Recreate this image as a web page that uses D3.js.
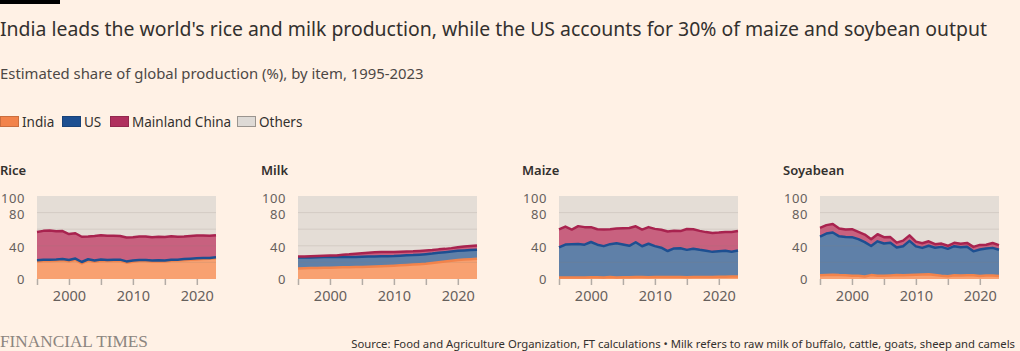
<!DOCTYPE html>
<html>
<head>
<meta charset="utf-8">
<script src="https://cdn.jsdelivr.net/npm/d3@7"></script>
<style>
  body { margin: 0; background: #fff1e5; }
  svg { display: block; font-family: "Noto Sans", sans-serif; }
</style>
</head>
<body>
<div id="chart"></div>
<script>
// ---- data (share of global production, %) ----
const years = d3.range(1995, 2024);

const items = ["Rice", "Milk", "Maize", "Soyabean"];
const seriesNames = ["India", "US", "Mainland China", "Others"];

const riceIndia = [21.0,21.8,21.8,22.0,22.5,21.3,23.0,18.9,22.3,20.7,22.0,21.6,21.8,21.8,19.7,20.7,21.7,21.7,21.2,21.1,21.1,21.9,22.2,22.7,23.3,23.6,24.1,24.4,25.0];
const riceUS    = [1.5,1.5,1.5,1.5,1.6,1.5,1.6,1.6,1.5,1.7,1.6,1.4,1.4,1.5,1.5,1.6,1.2,1.2,1.2,1.4,1.2,1.4,1.1,1.3,1.1,1.3,1.1,1.0,1.1];
const riceChina = [34.2,34.7,35.0,34.0,33.6,31.3,30.5,30.4,27.4,29.4,29.1,29.0,28.8,28.6,28.9,28.1,28.2,28.3,27.9,28.4,28.3,28.1,27.7,27.3,27.4,27.4,27.1,26.6,26.7];

const milkIndia = [12.8,13.0,13.2,13.4,13.6,13.7,13.9,14.1,14.2,14.4,14.6,14.9,15.2,15.5,15.8,16.1,16.5,16.9,17.4,17.9,18.5,19.3,20.2,21.1,22.0,22.8,23.4,23.9,24.5];
const milkUS    = [13.0,12.9,12.8,12.8,12.9,12.8,12.5,12.6,12.4,12.2,12.2,12.1,12.0,11.9,11.7,11.6,11.6,11.6,11.4,11.4,11.4,11.3,11.3,11.1,11.0,11.1,11.0,10.9,10.8];
const milkChina = [1.3,1.3,1.4,1.5,1.6,1.7,2.0,2.5,3.1,3.8,4.3,4.6,4.9,5.0,4.9,4.8,4.8,4.7,4.5,4.5,4.4,4.2,4.2,4.1,4.2,4.4,4.7,5.0,5.1];

const maizeIndia = [1.8,1.8,1.8,1.8,1.9,2.0,2.1,1.9,2.3,1.9,2.1,2.1,2.4,2.4,2.0,2.5,2.5,2.5,2.3,2.3,2.2,2.3,2.5,2.4,2.4,2.7,2.6,2.9,3.1];
const maizeUS    = [36.2,39.7,40.0,40.3,39.5,42.6,39.2,37.7,39.7,41.2,39.5,37.9,41.9,37.1,40.5,37.1,35.2,31.2,34.5,34.7,32.9,34.2,32.7,31.7,30.3,30.8,31.5,29.9,31.3];
const maizeChina = [21.7,21.6,17.8,21.6,21.1,17.9,18.6,20.0,18.0,17.8,19.5,21.4,19.2,20.0,20.0,20.8,21.7,23.5,21.4,20.7,25.2,23.4,22.8,22.4,22.8,22.4,22.5,23.8,23.3];

const soyIndia = [4.5,4.9,5.2,4.8,4.6,3.8,3.8,3.0,4.7,3.9,3.8,4.3,4.7,4.5,4.9,5.1,5.4,5.6,4.7,3.8,3.2,4.5,4.2,4.4,4.5,3.6,4.1,4.1,3.7];
const soyUS    = [46.6,49.8,50.8,46.6,46.0,46.6,44.2,41.4,35.0,41.5,39.0,39.4,33.3,35.0,41.0,34.2,32.1,34.4,33.0,34.9,33.1,35.0,34.0,34.5,28.8,31.9,32.7,33.4,31.5];
const soyChina = [10.6,10.2,10.2,9.5,9.1,9.6,8.7,9.1,8.1,8.5,7.6,6.8,5.8,6.7,6.7,5.7,5.5,5.4,4.3,4.0,3.7,4.1,4.3,4.6,5.4,5.6,4.4,5.8,5.6];

const panelSeries = {
  Rice: [riceIndia, riceUS, riceChina],
  Milk: [milkIndia, milkUS, milkChina],
  Maize: [maizeIndia, maizeUS, maizeChina],
  Soyabean: [soyIndia, soyUS, soyChina]
};

const yTicks = [0, 40, 80, 100];
const yGrid = [20, 40, 60, 80];
const xLabelTicks = [2000, 2010, 2020];
const xTicks = [1995, 2000, 2005, 2010, 2015, 2020];

// ---- styles ----
const fillColors = { "India": "#f8a171", "US": "#5f80a8", "Mainland China": "#c8617f", "Others": "#e4ddd6" };
const lineColors = { "India": "#f2834b", "US": "#1d4f91", "Mainland China": "#a8234f" };
const swatchColors = { "India": "#f2834b", "US": "#1d4f91", "Mainland China": "#b0305e", "Others": "#dedad6" };
const textColor = "#33302e";
const axisColor = "#66605c";

const width = 1020, height = 351;

const svg = d3.select("#chart").append("svg")
  .attr("width", width)
  .attr("height", height);

svg.append("rect").attr("width", width).attr("height", height).attr("fill", "#fff1e5");
svg.append("rect").attr("x", 0).attr("y", 0).attr("width", 60).attr("height", 4).attr("fill", "#000");

// fit a text node to a target width by adjusting font size
function fit(sel, target) {
  const w = sel.node().getComputedTextLength();
  const fs = parseFloat(sel.attr("font-size"));
  sel.attr("font-size", fs * target / w);
}

const title = svg.append("text")
  .attr("x", 0).attr("y", 36)
  .attr("font-size", 20)
  .attr("fill", textColor)
  .text("India leads the world's rice and milk production, while the US accounts for 30% of maize and soybean output");
fit(title, 988);

const subtitle = svg.append("text")
  .attr("x", 0).attr("y", 79)
  .attr("font-size", 15)
  .attr("fill", "#4d4845")
  .text("Estimated share of global production (%), by item, 1995-2023");
fit(subtitle, 424);

// legend
const legendX = [0, 62, 110, 237];
const legend = svg.append("g").attr("transform", "translate(0,116)");
seriesNames.forEach((name, i) => {
  const g = legend.append("g").attr("transform", `translate(${legendX[i]},0)`);
  g.append("rect")
    .attr("x", 0.5).attr("y", 0.5).attr("width", 18).attr("height", 10)
    .attr("fill", swatchColors[name])
    .attr("stroke", name === "Others" ? "#9a948f" : d3.color(swatchColors[name]).darker(0.5))
    .attr("stroke-width", 1);
  g.append("text")
    .attr("x", 22).attr("y", 11)
    .attr("font-size", 13.5)
    .attr("fill", textColor)
    .text(name);
});

// panels
const panelX = [0, 261, 522, 783];
const plotLeft = 37, plotW = 179;
const y = d3.scaleLinear().domain([0, 100]).range([279, 196]);

items.forEach((item, p) => {
  const g = svg.append("g").attr("transform", `translate(${panelX[p]},0)`);
  const x = d3.scaleLinear().domain([1995, 2023]).range([plotLeft, plotLeft + plotW]);

  g.append("text")
    .attr("x", 0).attr("y", 175)
    .attr("font-size", 13)
    .attr("font-weight", 600)
    .attr("fill", textColor)
    .text(item);

  const [a, b, c] = panelSeries[item];
  const rows = years.map((yr, i) => ({
    year: yr,
    "India": a[i],
    "US": b[i],
    "Mainland China": c[i],
    "Others": 100 - a[i] - b[i] - c[i]
  }));
  const stacked = d3.stack().keys(seriesNames)(rows);

  const area = d3.area()
    .x(d => x(d.data.year))
    .y0(d => y(d[0]))
    .y1(d => y(d[1]));
  const topLine = d3.line()
    .x(d => x(d.data.year))
    .y(d => y(d[1]));

  g.selectAll(".band")
    .data(stacked)
    .join("path")
    .attr("class", "band")
    .attr("d", area)
    .attr("fill", d => fillColors[d.key]);

  // grid lines
  g.selectAll(".grid")
    .data(yGrid)
    .join("line")
    .attr("class", "grid")
    .attr("x1", plotLeft).attr("x2", plotLeft + plotW)
    .attr("y1", d => y(d)).attr("y2", d => y(d))
    .attr("stroke", "#8a7f76")
    .attr("stroke-opacity", 0.18)
    .attr("stroke-width", 1);

  g.selectAll(".top")
    .data(stacked.filter(s => s.key !== "Others"))
    .join("path")
    .attr("class", "top")
    .attr("d", topLine)
    .attr("fill", "none")
    .attr("stroke", d => lineColors[d.key])
    .attr("stroke-width", 2.5)
    .attr("stroke-linejoin", "round");

  // y axis labels
  g.selectAll(".ylab")
    .data(yTicks)
    .join("text")
    .attr("class", "ylab")
    .attr("x", 25)
    .attr("y", d => y(d) + (d === 0 ? 4.5 : 6.5))
    .attr("text-anchor", "end")
    .attr("font-size", 13)
    .attr("letter-spacing", 0.6)
    .attr("fill", axisColor)
    .text(d => d);

  // x axis
  const xAxis = d3.axisBottom(x)
    .tickValues(xTicks)
    .tickSize(6)
    .tickFormat(d => xLabelTicks.includes(d) ? d : "");
  const ax = g.append("g")
    .attr("transform", `translate(0,${y(0)})`)
    .call(xAxis);
  ax.select(".domain").remove();
  ax.selectAll(".tick line").attr("stroke", "#b3aca6").attr("stroke-width", 1.5);
  ax.selectAll(".tick text")
    .attr("font-family", "Noto Sans, sans-serif")
    .attr("font-size", 14.5)
    .attr("fill", axisColor)
    .attr("dy", "0.9em");
});

// footer
const ft = svg.append("text")
  .attr("x", 0).attr("y", 347)
  .attr("font-family", "Liberation Serif, serif")
  .attr("font-size", 16)
  .attr("fill", "#8c8580")
  .text("FINANCIAL TIMES");
fit(ft, 148);

const source = svg.append("text")
  .attr("x", 1015).attr("y", 348)
  .attr("text-anchor", "end")
  .attr("font-size", 12)
  .attr("fill", textColor)
  .text("Source: Food and Agriculture Organization, FT calculations \u2022 Milk refers to raw milk of buffalo, cattle, goats, sheep and camels");
fit(source, 664);
</script>
</body>
</html>
